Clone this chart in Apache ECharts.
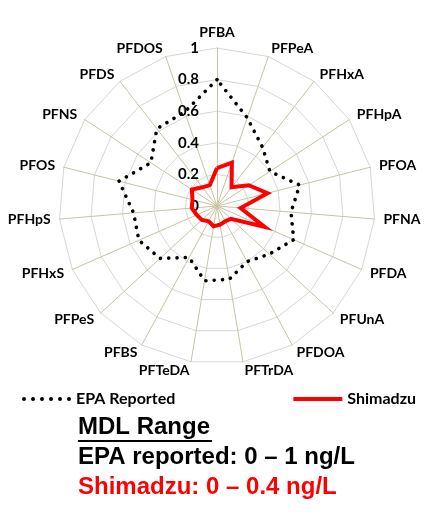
<!DOCTYPE html>
<html lang="en">

<head>
    <meta charset="UTF-8">
    <title>MDL Range</title>
    <style>
        html, body { margin: 0; padding: 0; background: #fff; }
        #main { width: 441px; height: 518px; }
    </style>
</head>

<body>
    <div id="main"></div>
    <script src="https://cdn.jsdelivr.net/npm/echarts@6/dist/echarts.min.js"></script>
    <script>
    // compounds, clockwise from the top
    var compounds = ['PFBA', 'PFPeA', 'PFHxA', 'PFHpA', 'PFOA', 'PFNA', 'PFDA', 'PFUnA', 'PFDOA', 'PFTrDA',
        'PFTeDA', 'PFBS', 'PFPeS', 'PFHxS', 'PFHpS', 'PFOS', 'PFNS', 'PFDS', 'PFDOS'];
    var epaReported = [0.80, 0.59, 0.47, 0.40, 0.54, 0.47, 0.53, 0.45, 0.40, 0.47,
        0.48, 0.37, 0.49, 0.54, 0.53, 0.64, 0.50, 0.62, 0.63];
    var shimadzu = [0.24, 0.29, 0.15, 0.24, 0.33, 0.15, 0.33, 0.12, 0.11, 0.12,
        0.13, 0.11, 0.13, 0.14, 0.16, 0.16, 0.19, 0.15, 0.14];
    var seriesNames = ['EPA Reported', 'Shimadzu'];
    var noteLines = ['MDL Range', 'EPA reported: 0 \u2013 1 ng/L', 'Shimadzu: 0 \u2013 0.4 ng/L'];

    // echarts radar goes counter-clockwise, so keep the first one and flip the rest
    function ccw(arr) {
        return [arr[0]].concat(arr.slice(1).reverse());
    }

    var tickLabel = {
        show: true,
        color: '#000',
        fontFamily: 'Lato',
        fontWeight: 'bold',
        fontSize: 15,
        margin: 18,
        formatter: function(v) { return String(+(+v).toFixed(1)); }
    };

    var indicator = ccw(compounds).map(function(n, i) {
        var ind = { name: n, min: 0, max: 1 };
        if (i === 0) ind.axisLabel = tickLabel;
        return ind;
    });

    // six little dots for the legend
    var dotIcon = 'path://';
    for (var i = 0; i < 6; i++) {
        var x = i * 9;
        dotIcon += 'M' + x + ',2a2,2 0 1,0 4,0a2,2 0 1,0 -4,0z';
    }

    var myChart = echarts.init(document.getElementById('main'));

    var option = {
        animation: false,
        textStyle: { fontFamily: 'Lato' },
        legend: {
            left: 17,
            top: 386,
            itemWidth: 49,
            itemHeight: 4,
            itemGap: 118,
            textStyle: { fontFamily: 'Lato', fontWeight: 'bold', fontSize: 16, color: '#000' },
            data: [
                { name: seriesNames[0], icon: dotIcon, itemStyle: { color: '#000' } },
                { name: seriesNames[1], icon: 'rect', itemStyle: { color: '#ff0000' } }
            ]
        },
        radar: {
            center: [217, 206],
            radius: 158,
            startAngle: 90,
            shape: 'polygon',
            splitNumber: 5,
            indicator: indicator,
            axisName: {
                color: '#000',
                fontFamily: 'Lato',
                fontWeight: 'bold',
                fontSize: 14
            },
            nameGap: 9,
            axisLine: { lineStyle: { color: '#c9c2a3', width: 1 } },
            splitLine: { lineStyle: { color: '#d6d6d6', width: 1 } },
            splitArea: { show: false },
            axisTick: { show: false },
            axisLabel: { show: false }
        },
        series: [{
            type: 'radar',
            symbol: 'none',
            data: [{
                name: seriesNames[0],
                value: ccw(epaReported),
                lineStyle: { color: '#000', width: 3.6, type: [0.1, 8.2], cap: 'round' }
            }, {
                name: seriesNames[1],
                value: ccw(shimadzu),
                lineStyle: { color: '#ff0000', width: 4, join: 'miter' }
            }]
        }],
        graphic: [{
            type: 'text',
            left: 78,
            top: 415,
            style: { text: noteLines[0], font: 'bold 24px "Liberation Sans"', fill: '#000' }
        }, {
            type: 'line',
            shape: { x1: 78, y1: 441, x2: 212, y2: 441 },
            style: { stroke: '#000', lineWidth: 2 }
        }, {
            type: 'text',
            left: 78,
            top: 445,
            style: { text: noteLines[1], font: 'bold 24px "Liberation Sans"', fill: '#000' }
        }, {
            type: 'text',
            left: 78,
            top: 475,
            style: { text: noteLines[2], font: 'bold 24px "Liberation Sans"', fill: '#ff0000' }
        }]
    };

    myChart.setOption(option);
    </script>
</body>

</html>
